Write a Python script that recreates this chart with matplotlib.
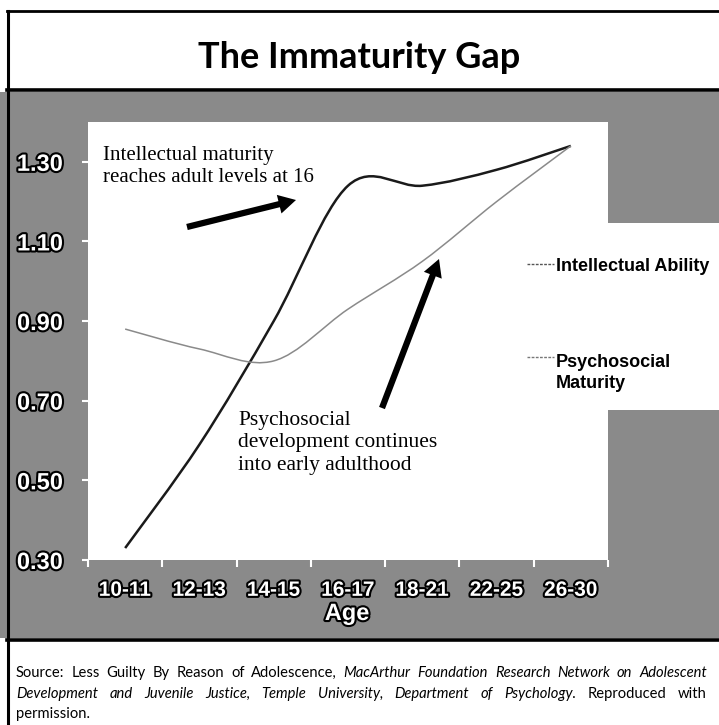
import numpy as np
import matplotlib
matplotlib.use("Agg")
import matplotlib.pyplot as plt
import matplotlib.patheffects as pe
from matplotlib.path import Path
from matplotlib.patches import PathPatch, Rectangle, FancyArrowPatch
from matplotlib.lines import Line2D

# data
age_groups = ["10-11", "12-13", "14-15", "16-17", "18-21", "22-25", "26-30"]
intellectual = [0.33, 0.59, 0.90, 1.24, 1.24, 1.28, 1.34]
psychosocial = [0.88, 0.83, 0.80, 0.93, 1.05, 1.20, 1.34]
y_ticks = [0.30, 0.50, 0.70, 0.90, 1.10, 1.30]

W, H = 719, 725
GREY = "#8a8a8a"


def fx(x):
    return x / W


def fy(y):
    return 1 - y / H


def smooth_path(xs, ys):
    # catmull-rom -> cubic bezier, like the "smoothed line" option in office charts
    pts = np.column_stack([xs, ys]).astype(float)
    n = len(pts)
    verts = [pts[0]]
    codes = [Path.MOVETO]
    for i in range(n - 1):
        p0 = pts[max(i - 1, 0)]
        p1 = pts[i]
        p2 = pts[i + 1]
        p3 = pts[min(i + 2, n - 1)]
        verts += [p1 + (p2 - p0) / 6, p2 - (p3 - p1) / 6, p2]
        codes += [Path.CURVE4] * 3
    return Path(verts, codes)


fig = plt.figure(figsize=(W / 100, H / 100), dpi=100)

# frame pieces
fig.add_artist(Rectangle((0, fy(638)), 1, fy(92) - fy(638), transform=fig.transFigure,
                         facecolor=GREY, edgecolor="none", zorder=-3))
fig.add_artist(Rectangle((fx(606), fy(410)), 1 - fx(606), fy(223) - fy(410),
                         transform=fig.transFigure, facecolor="white", edgecolor="none", zorder=-2))
for (x0, y0, x1, y1, lw) in [(7, 11, 719, 11, 2), (8, 11, 8, 725, 2.2),
                             (7, 90, 719, 90, 2.6), (7, 640, 719, 640, 2.6)]:
    fig.add_artist(Line2D([fx(x0), fx(x1)], [fy(y0), fy(y1)], color="black", lw=lw))

fig.text(fx(359), fy(68), "The Immaturity Gap", ha="center", va="baseline",
         fontsize=26, fontweight="bold", family="Lato")

# plot area
ax = fig.add_axes([fx(88), fy(560), fx(608) - fx(88), fy(122) - fy(560)])
ax.set_facecolor("white")
x = np.arange(len(age_groups))
ax.add_patch(PathPatch(smooth_path(x, intellectual), facecolor="none",
                       edgecolor="#1a1a1a", lw=1.8, label="Intellectual Ability"))
ax.add_patch(PathPatch(smooth_path(x, psychosocial), facecolor="none",
                       edgecolor="#8a8a8a", lw=1.1, label="Psychosocial Maturity"))
ax.set_xlim(-0.5, len(age_groups) - 0.5)
ax.set_ylim(0.30, 1.40)
ax.set_yticks(y_ticks)
ax.set_yticklabels([f"{v:.2f}" for v in y_ticks])
ax.set_xticks(x)
ax.set_xticklabels(age_groups)
ax.set_xticks(np.arange(-0.5, len(age_groups)), minor=True)
for s in ax.spines.values():
    s.set_visible(False)

outline = [pe.withStroke(linewidth=3, foreground="black")]
ax.tick_params(axis="x", which="major", length=0, pad=15)
ax.tick_params(axis="x", which="minor", length=5, width=1.5, color="white", direction="out")
ax.tick_params(axis="y", length=4, width=1.5, color="white", direction="out", pad=14)
for lab in ax.get_yticklabels():
    lab.set(color="white", fontsize=17, fontweight="bold", family="Liberation Sans",
            path_effects=outline)
for lab in ax.get_xticklabels():
    lab.set(color="white", fontsize=15, fontweight="bold", family="Liberation Sans",
            path_effects=outline)

fig.text(fx(347), fy(620), "Age", ha="center", va="baseline", color="white",
         fontsize=17, fontweight="bold", family="Liberation Sans", path_effects=outline)

# legend (drawn by hand, sits outside the plot box)
fig.add_artist(Line2D([fx(527), fx(554)], [fy(264)] * 2, color="#555555", lw=1, ls=(0, (2, 1))))
fig.add_artist(Line2D([fx(527), fx(554)], [fy(357)] * 2, color="#777777", lw=1, ls=(0, (2, 1))))
leg_font = dict(fontsize=13, fontweight="bold", family="Liberation Sans", va="baseline")
fig.text(fx(556), fy(271), "Intellectual Ability", **leg_font)
fig.text(fx(556), fy(367), "Psychosocial", **leg_font)
fig.text(fx(556), fy(388), "Maturity", **leg_font)

# callouts
serif = dict(family="Liberation Serif", va="baseline")
fig.text(fx(103), fy(160), "Intellectual maturity", fontsize=15, **serif)
fig.text(fx(103), fy(182), "reaches adult levels at 16", fontsize=15, **serif)
fig.text(fx(238), fy(425), "Psychosocial", fontsize=15.5, **serif)
fig.text(fx(238), fy(447), "development continues", fontsize=15.5, **serif)
fig.text(fx(238), fy(470), "into early adulthood", fontsize=15.5, **serif)

arrow_style = "simple,head_length=0.5,head_width=0.55,tail_width=0.18"
for (xa, ya, xb, yb) in [(187, 227, 296, 200), (382, 408, 439, 259)]:
    fig.add_artist(FancyArrowPatch((fx(xa), fy(ya)), (fx(xb), fy(yb)), transform=fig.transFigure,
                                   arrowstyle=arrow_style, mutation_scale=25, color="black",
                                   lw=0, shrinkA=0, shrinkB=0, zorder=5))

# source note, justified like the original
renderer = fig.canvas.get_renderer()
src_lines = [
    ([("Source:", "normal"), ("Less", "normal"), ("Guilty", "normal"), ("By", "normal"),
      ("Reason", "normal"), ("of", "normal"), ("Adolescence,", "normal"), ("MacArthur", "italic"),
      ("Foundation", "italic"), ("Research", "italic"), ("Network", "italic"), ("on", "italic"),
      ("Adolescent", "italic")], 673, True),
    ([("Development", "italic"), ("and", "italic"), ("Juvenile", "italic"), ("Justice,", "italic"),
      ("Temple", "italic"), ("University,", "italic"), ("Department", "italic"), ("of", "italic"),
      ("Psychology.", "italic"), ("Reproduced", "normal"), ("with", "normal")], 694, True),
    ([("permission.", "normal")], 714, False),
]
for words, yline, justify in src_lines:
    texts = [fig.text(0, 0, w, style=st, fontsize=10.6, family="Lato", va="center")
             for w, st in words]
    widths = [t.get_window_extent(renderer).width for t in texts]
    gap = (707 - 16 - sum(widths)) / (len(texts) - 1) if justify and len(texts) > 1 else 4
    xpos = 16
    for t, w in zip(texts, widths):
        t.set_position((fx(xpos), fy(yline)))
        xpos += w + gap

fig.savefig("out.png", dpi=100)
